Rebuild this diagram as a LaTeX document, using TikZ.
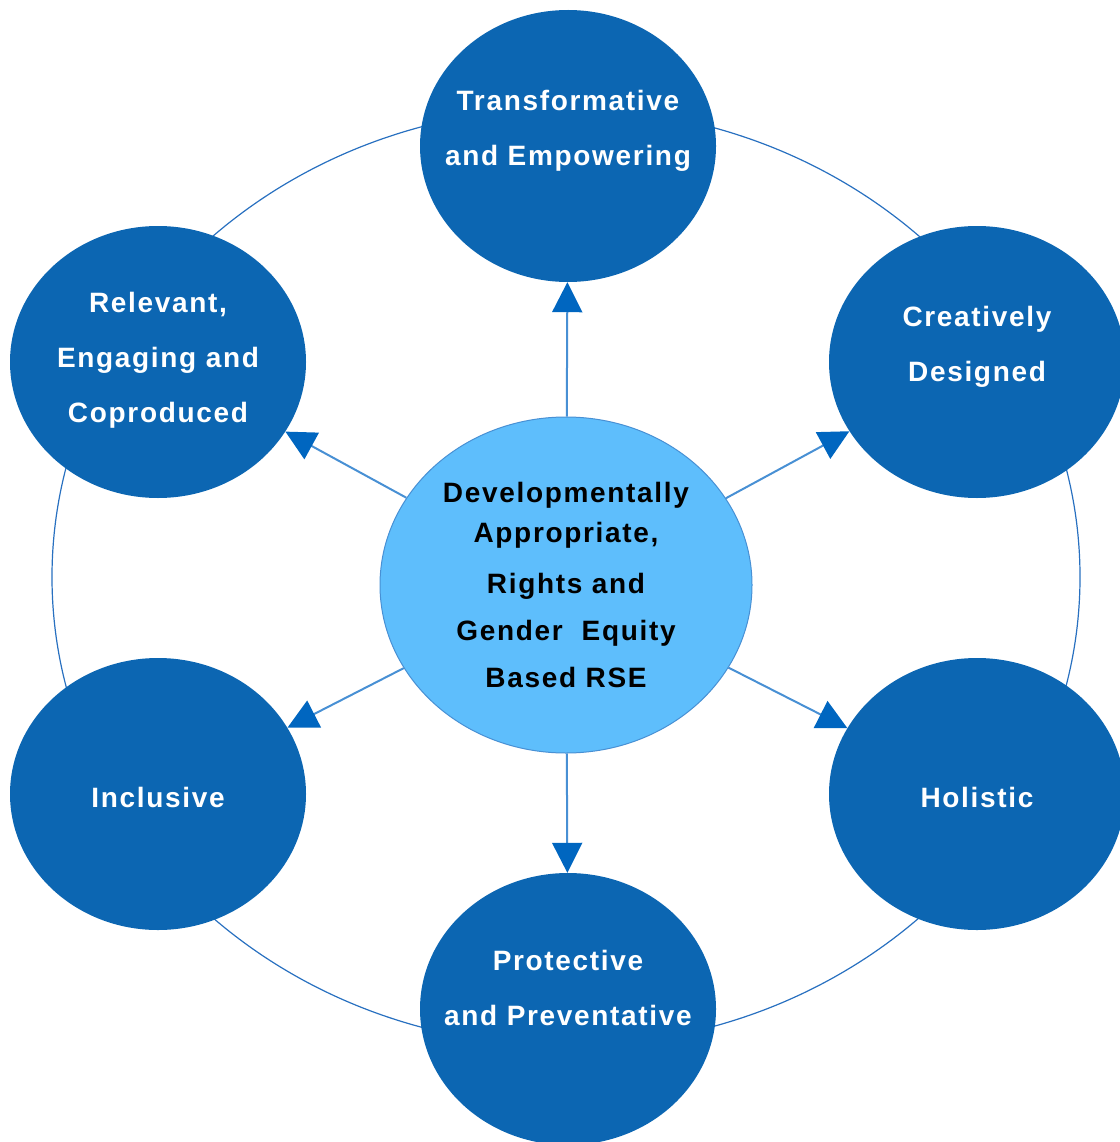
\documentclass[tikz,border=0pt]{standalone}
\usepackage{fontspec}
\setmainfont{Liberation Sans}
\newfontfamily\labfont[LetterSpace=6]{Liberation Sans}
\usetikzlibrary{shapes.geometric}
\usetikzlibrary{arrows.meta}
\definecolor{darkblue}{RGB}{12,102,178}
\definecolor{lightblue}{RGB}{94,190,252}
\definecolor{ringblue}{RGB}{40,112,192}
\definecolor{arrowblue}{RGB}{0,102,192}
\definecolor{shaftblue}{RGB}{72,144,212}
\begin{document}
\begin{tikzpicture}[x=1pt,y=-1pt]
				\tikzstyle{bubble}=[ellipse,fill=darkblue,minimum width=296pt,minimum height=272pt,inner sep=0pt]
				\tikzstyle{hub}=[ellipse,fill=lightblue,draw=shaftblue,line width=1pt,minimum width=372pt,minimum height=336pt,inner sep=0pt,align=center,font=\labfont\bfseries\fontsize{28}{47}\selectfont]
				\tikzstyle{lab}=[text=white,align=center,inner sep=0pt,font=\labfont\bfseries\fontsize{28}{55}\selectfont]
				\tikzstyle{spoke}=[draw=shaftblue,line width=2pt,-{Triangle[length=30pt,width=30pt,color=arrowblue]}]
				
				\useasboundingbox (0,0) rectangle (1119,1142);
				\draw[ringblue,line width=1.2pt] (566,577) ellipse [x radius=514pt,y radius=469pt];
				
				\node[bubble] (top) at (568,146) {};
				\node[bubble] (tl) at (158,362) {};
				\node[bubble] (tr) at (977,362) {};
				\node[bubble] (bl) at (158,794) {};
				\node[bubble] (br) at (977,794) {};
				\node[bubble] (bot) at (568,1009) {};
				\node[hub] (hub) at (566,585) {Developmentally\\[-7pt]Appropriate,\\[4pt]Rights and\\Gender~~Equity\\Based RSE};
				
				\node[lab,yshift=15.5pt] (toplab) at (top) {Transformative\\and Empowering};
				\node[lab,yshift=1.5pt] (tllab) at (tl) {Relevant,\\Engaging and\\Coproduced};
				\node[lab,yshift=15pt] (trlab) at (tr) {Creatively\\Designed};
				\node[lab,yshift=-3pt] (bllab) at (bl) {Inclusive};
				\node[lab,yshift=-3pt] (brlab) at (br) {Holistic};
				\node[lab,yshift=21pt] (botlab) at (bot) {Protective\\and Preventative};
				
				\foreach \t in {top,tl,tr,bl,br,bot}
					\draw[spoke] (hub) -- (\t);
\end{tikzpicture}
\end{document}
